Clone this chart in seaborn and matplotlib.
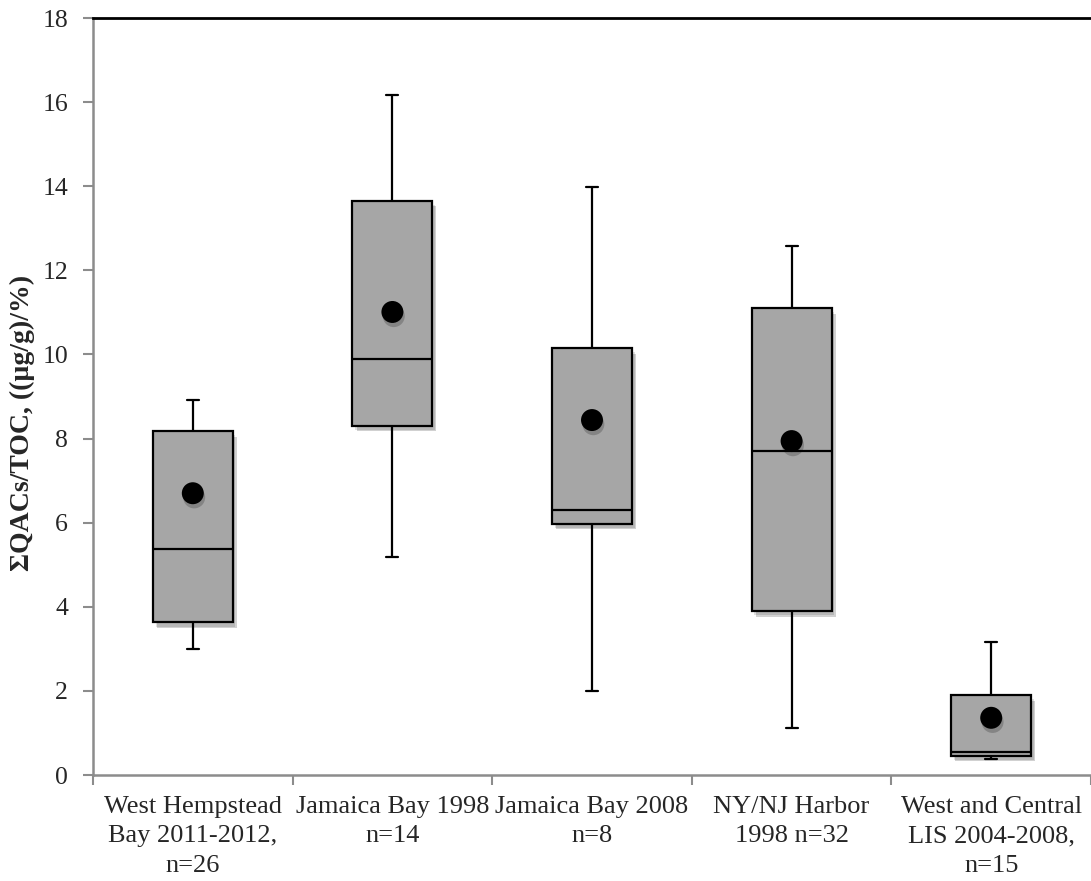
import numpy as np
import pandas as pd
import matplotlib
matplotlib.use("Agg")
import matplotlib.pyplot as plt
import matplotlib.patheffects as pe
import seaborn as sns

# ---- data ----
categories = [
    "West Hempstead\nBay 2011-2012,\nn=26",
    "Jamaica Bay 1998\nn=14",
    "Jamaica Bay 2008\nn=8",
    "NY/NJ Harbor\n1998 n=32",
    "West and Central\nLIS 2004-2008,\nn=15",
]
mins    = [3.00, 5.18, 2.00, 1.12, 0.37]
q1s     = [3.63, 8.30, 5.98, 3.90, 0.46]
medians = [5.37, 9.89, 6.31, 7.70, 0.54]
q3s     = [8.18, 13.65, 10.15, 11.10, 1.90]
maxs    = [8.92, 16.17, 13.98, 12.58, 3.17]
means   = [6.70, 11.01, 8.44, 7.94, 1.36]

y_ticks = [0, 2, 4, 6, 8, 10, 12, 14, 16, 18]

# five-number summaries in long form (quartiles reproduce exactly with 5 points)
rows = []
for c, a, b, m, d, e in zip(categories, mins, q1s, medians, q3s, maxs):
    for v in (a, b, m, d, e):
        rows.append({"site": c, "value": v})
df = pd.DataFrame(rows)
df_mean = pd.DataFrame({"site": categories, "value": means})

sns.set_theme(style="white")
plt.rcParams["font.family"] = ["Liberation Serif", "DejaVu Serif"]

fig = plt.figure(figsize=(10.91, 8.81), dpi=100)
ax = fig.add_axes([93 / 1091, 106 / 881, 998 / 1091, 757 / 881])

sns.boxplot(
    data=df, x="site", y="value", order=categories, ax=ax,
    whis=(0, 100), width=0.4, showfliers=False,
    color="#A6A6A6", saturation=1,
    boxprops=dict(facecolor="#A6A6A6", edgecolor="black", linewidth=1.6),
    medianprops=dict(color="black", linewidth=1.6),
    whiskerprops=dict(color="black", linewidth=1.6),
    capprops=dict(color="black", linewidth=1.6),
)

# soft shadows on boxes
for p in ax.patches:
    p.set_path_effects([pe.SimplePatchShadow(offset=(3, -4), shadow_rgbFace="black", alpha=0.18),
                        pe.SimplePatchShadow(offset=(2, -3), shadow_rgbFace="black", alpha=0.12),
                        pe.Normal()])

# narrow caps
for ln in ax.lines:
    x = np.asarray(ln.get_xdata(), dtype=float)
    y = np.asarray(ln.get_ydata(), dtype=float)
    if len(x) == 2 and y[0] == y[1] and abs(x[1] - x[0]) < 0.3:
        c = x.mean()
        ln.set_xdata([c - 0.03, c + 0.03])

sns.scatterplot(data=df_mean, x="site", y="value", ax=ax, color="black",
                s=250, edgecolor="black", linewidth=0, zorder=5)
for coll in ax.collections:
    coll.set_path_effects([pe.SimplePatchShadow(offset=(1, -3), shadow_rgbFace="black", alpha=0.2),
                           pe.Normal()])

ax.set_ylim(0, 18)
ax.set_xlim(-0.5, 4.5)
ax.set_yticks(y_ticks)
ax.set_yticklabels([str(t) for t in y_ticks])

# x ticks at category boundaries, labels centered
ax.set_xticks(np.arange(-0.5, 5.0, 1.0))
ax.set_xticklabels([])
ax.set_xticks(np.arange(len(categories)), minor=True)
ax.set_xticklabels(categories, minor=True, fontsize=19, linespacing=1.45)
ax.tick_params(axis="x", which="minor", length=0, pad=15)
ax.tick_params(axis="x", which="major", length=7, width=1.5, color="#8C8C8C", direction="out", bottom=True)
ax.tick_params(axis="y", length=7, width=1.5, color="#8C8C8C", direction="out", left=True,
               labelsize=18.5, pad=11)

ax.set_xlabel("")
ax.set_ylabel("ΣQACs/TOC, ((µg/g)/%)", fontsize=20, fontweight="bold")
ax.yaxis.set_label_coords(-0.058, 0.465)

for s in ["left", "bottom"]:
    ax.spines[s].set_color("#8C8C8C")
    ax.spines[s].set_linewidth(1.8)
ax.spines["top"].set_color("black")
ax.spines["top"].set_linewidth(2)
ax.spines["right"].set_visible(False)

fig.savefig("out.png", dpi=100)
